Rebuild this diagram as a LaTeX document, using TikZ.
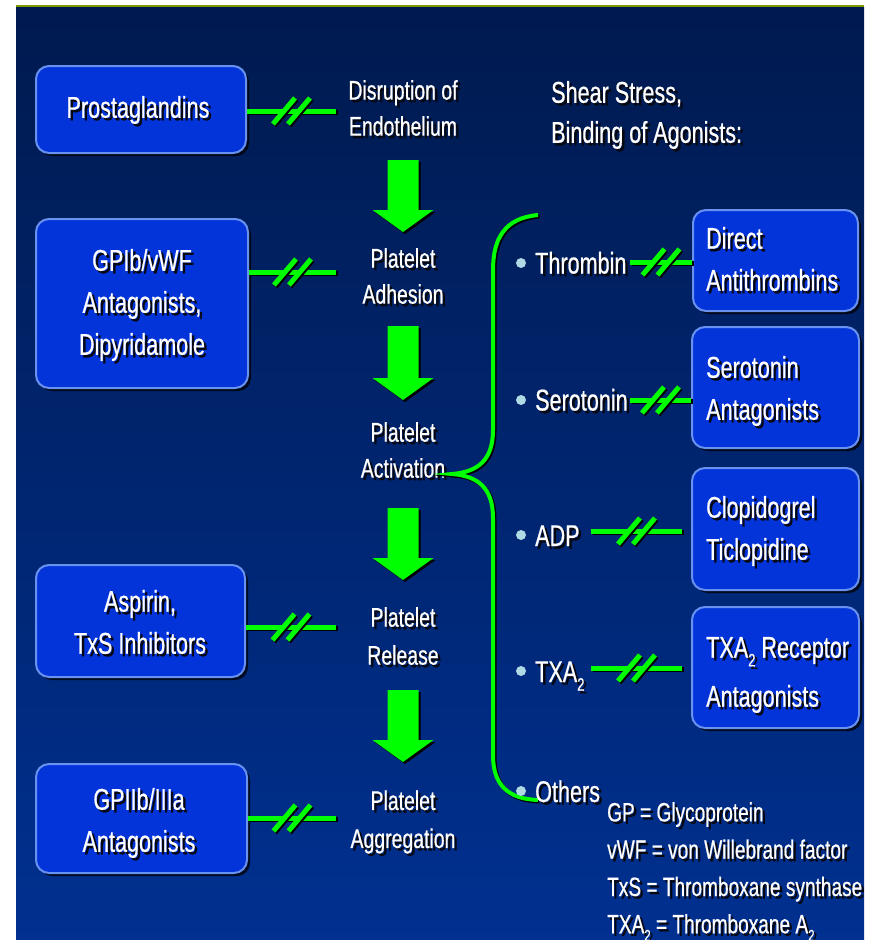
\documentclass[tikz,border=0pt]{standalone}
\usepackage{fontspec}
\setmainfont[FakeStretch=0.72,FakeBold=0.6]{Liberation Sans}
\usetikzlibrary{calc,shadows}
\definecolor{bgtop}{RGB}{0,26,79}
\definecolor{bgbot}{RGB}{0,48,144}
\definecolor{lime}{RGB}{0,255,0}
\definecolor{boxfill}{RGB}{3,52,218}
\definecolor{boxedge}{RGB}{105,145,240}
\definecolor{bulletc}{RGB}{175,218,228}
\definecolor{topline}{RGB}{125,155,0}
\definecolor{tshadow}{RGB}{8,8,16}
\tikzset{
  txt/.style={text=white, inner sep=0pt, align=center},
  fbox/.style={font=\fontsize{30}{42}\selectfont},
  fmid/.style={font=\fontsize{27}{36}\selectfont},
  fmid2/.style={font=\fontsize{27}{38}\selectfont},
  fitem/.style={font=\fontsize{30}{40}\selectfont},
  fleg/.style={font=\fontsize{26.5}{37.3}\selectfont},
  boxst/.style={draw=boxedge, fill=boxfill, line width=2pt, rounded corners=13pt,
    inner sep=0pt, drop shadow={shadow xshift=3pt, shadow yshift=-3pt, fill=black, opacity=0.75}},
  gl/.style={draw=lime, line width=5pt},
  gsh/.style={draw=black, line width=5pt, transform canvas={shift={(1.5,1.5)}}},
  bul/.style={circle, fill=bulletc, inner sep=0pt, minimum size=10pt},
  brk/.pic={
    \foreach \dx in {-7.5,7.5}{
      \draw[black, line width=5pt] (\dx-11+1.5,13+1.5) -- (\dx+11+1.5,-13+1.5);
      \draw[lime, line width=5pt] (\dx-11,13) -- (\dx+11,-13);
    }
  }
}
\newcommand\stx[4][]{%
  \node[txt,#1,text=tshadow,shift={(2.5,2.5)}] (#2s) at (#3) {#4};
  \node[txt,#1] (#2) at (#3) {#4};}
\newcommand\inh[2]{%
  \draw[gsh] (#1) -- (#2);
  \draw[gl] (#1) -- (#2);
  \path ($(#1)!0.5!(#2)$) pic{brk};}
\newcommand\barrow[3]{%
  \foreach \c/\s in {black/2, lime/0}{
    \fill[\c, shift={(\s,\s)}] (#1-15.5,#2) -- (#1+15.5,#2) -- (#1+15.5,#3-22) -- (#1+30.5,#3-22)
      -- (#1,#3) -- (#1-30.5,#3-22) -- (#1-15.5,#3-22) -- cycle;
  }}
\newcommand\sbs[1]{\raisebox{-0.55ex}{\scalebox{0.6}{#1}}}
\begin{document}
\begin{tikzpicture}[x=1pt,y=-1pt]
\useasboundingbox (0,0) rectangle (870,940);
\fill[white] (0,0) rectangle (870,940);
\shade[top color=bgtop, bottom color=bgbot] (16,7) rectangle (864,940);
\fill[topline] (16,4.5) rectangle (864,7);

% left boxes
\node[boxst, minimum width=210pt, minimum height=87pt] (pros) at (141,109.5) {};
\node[boxst, minimum width=212pt, minimum height=169pt] (gpib) at (142,303.5) {};
\node[boxst, minimum width=209pt, minimum height=112pt] (asp) at (140.5,621) {};
\node[boxst, minimum width=211pt, minimum height=109pt] (gp2) at (141.5,818.5) {};
% right boxes
\node[boxst, minimum width=165pt, minimum height=101pt] (dat) at (775.5,260.5) {};
\node[boxst, minimum width=167pt, minimum height=121pt] (ser) at (775.5,387.5) {};
\node[boxst, minimum width=167pt, minimum height=122pt] (clo) at (775.5,529) {};
\node[boxst, minimum width=167pt, minimum height=121pt] (txr) at (775.5,667.5) {};

% box texts
\stx[fbox]{prost}{138,110}{Prostaglandins}
\stx[fbox]{gpibt}{142,305}{GPIb/vWF\\Antagonists,\\Dipyridamole}
\stx[fbox]{aspt}{140,622}{Aspirin,\\TxS Inhibitors}
\stx[fbox]{gp2t}{139,823}{GPIIb/IIIa\\Antagonists}
\stx[fbox,align=left,anchor=west]{datt}{706,259}{Direct\\Antithrombins}
\stx[fbox,align=left,anchor=west]{sert}{706,391}{Serotonin\\Antagonists}
\stx[fbox,align=left,anchor=west]{clot}{706,531}{Clopidogrel\\Ticlopidine}
\stx[fbox,align=left,anchor=west,font=\fontsize{30}{49}\selectfont]{txrt}{706,675}{TXA\sbs{2} Receptor\\Antagonists}

% centre chain
\stx[fmid]{dis}{403,108}{Disruption of\\Endothelium}
\stx[fmid]{adh}{403,276}{Platelet\\Adhesion}
\stx[fmid]{act}{403,450}{Platelet\\Activation}
\stx[fmid2]{rel}{403,636}{Platelet\\Release}
\stx[fmid2]{agg}{403,822}{Platelet\\Aggregation}
\barrow{403}{160}{232}
\barrow{403}{326}{400}
\barrow{403}{508}{580}
\barrow{403}{690}{762}

% inhibition lines left
\coordinate (e1) at (336,111);
\coordinate (e2) at (336,272);
\coordinate (e3) at (336,627);
\coordinate (e4) at (336,818);
\coordinate (s1) at (pros.east |- e1);
\coordinate (s2) at (gpib.east |- e2);
\coordinate (s3) at (asp.east |- e3);
\coordinate (s4) at (gp2.east |- e4);
\inh{s1}{e1}
\inh{s2}{e2}
\inh{s3}{e3}
\inh{s4}{e4}

% header right
\stx[fitem,align=left,anchor=west]{shear}{551,115}{Shear Stress,\\Binding of Agonists:}

% brace
\coordinate (bt) at (538,215);
\coordinate (bb) at (538,800);
\coordinate (btip) at (452,474);
\draw[gsh, line width=4pt] (bt) .. controls (505,218) and (493,238) .. (493,270) -- (493,430)
  .. controls (493,460) and (478,472) .. (btip) .. controls (478,476) and (493,488) .. (493,518)
  -- (493,755) .. controls (493,785) and (508,799) .. (bb);
\draw[gl, line width=4pt] (bt) .. controls (505,218) and (493,238) .. (493,270) -- (493,430)
  .. controls (493,460) and (478,472) .. (btip) .. controls (478,476) and (493,488) .. (493,518)
  -- (493,755) .. controls (493,785) and (508,799) .. (bb);

% bullets and items
\node[bul] (b1) at (521,263) {};
\node[bul] (b2) at (521,400) {};
\node[bul] (b3) at (521,535) {};
\node[bul] (b4) at (521,671) {};
\node[bul] (b5) at (521,791) {};
\stx[fitem,anchor=base west]{thr}{535,273.5}{Thrombin}
\stx[fitem,anchor=base west]{sero}{535,410.5}{Serotonin}
\stx[fitem,anchor=base west]{adp}{535,546}{ADP}
\stx[fitem,anchor=base west]{txa}{535,682}{TXA\sbs{2}}
\stx[fitem,anchor=base west]{oth}{535,802}{Others}

% inhibition lines right
\coordinate (r1a) at (630,262);
\coordinate (r1b) at (dat.west |- r1a);
\coordinate (r2a) at (630,400);
\coordinate (r2b) at (ser.west |- r2a);
\coordinate (r3a) at (591,531);
\coordinate (r3b) at (682,531);
\coordinate (r4a) at (591,668);
\coordinate (r4b) at (682,668);
\inh{r1a}{r1b}
\inh{r2a}{r2b}
\inh{r3a}{r3b}
\inh{r4a}{r4b}

% legend
\stx[fleg,align=left,anchor=north west]{leg}{607,802}{GP = Glycoprotein\\vWF = von Willebrand factor\\TxS = Thromboxane synthase\\TXA\sbs{2} = Thromboxane A\sbs{2}}
\end{tikzpicture}
\end{document}
